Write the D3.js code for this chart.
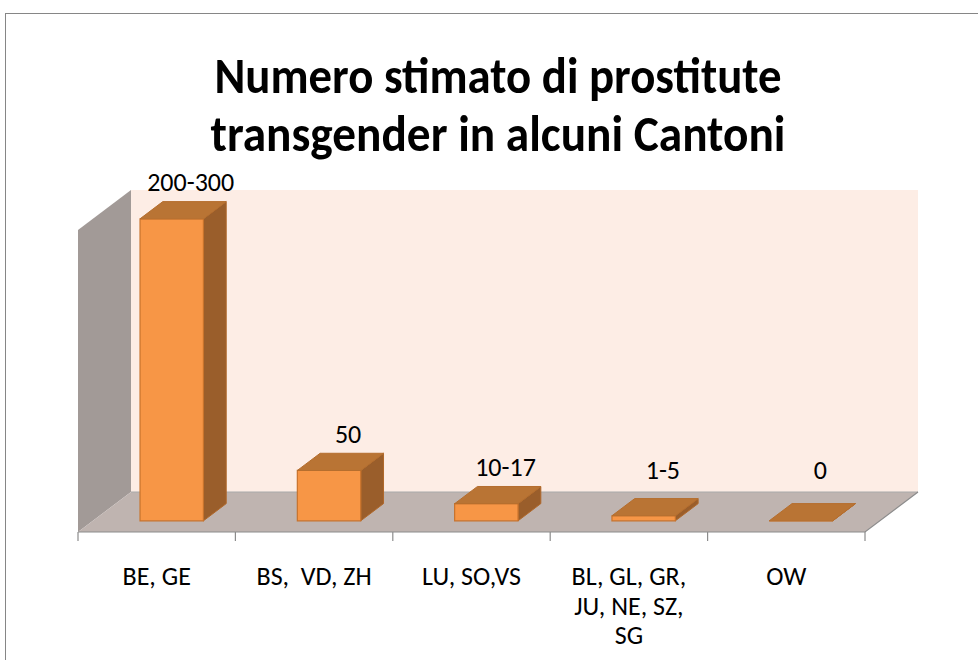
<!DOCTYPE html>
<html>
<head>
<meta charset="utf-8">
<script src="https://cdn.jsdelivr.net/npm/d3@7"></script>
<style>
  html, body { margin: 0; padding: 0; background: #ffffff; }
  svg { display: block; }
  text { font-family: Calibri, Carlito, Lato, "Open Sans", sans-serif; }
</style>
</head>
<body>
<svg id="chart" width="978" height="660"></svg>
<script>
// ---- data ----
const categories = ["BE, GE", "BS,  VD, ZH", "LU, SO,VS", "BL, GL, GR, JU, NE, SZ, SG", "OW"];
const categoryLines = [["BE, GE"], ["BS,  VD, ZH"], ["LU, SO,VS"], ["BL, GL, GR,", "JU, NE, SZ,", "SG"], ["OW"]];
const values = [300, 50, 17, 5, 0];
const valueLabels = ["200-300", "50", "10-17", "1-5", "0"];
const titleLines = ["Numero stimato di prostitute", "transgender in alcuni Cantoni"];

// ---- layout ----
const W = 978, H = 660;
const svg = d3.select("#chart");
const floorY = 532, left = 78, right = 865;
const depthDX = 53, depthDY = -40;
const wallH = 302;

const xCat = d3.scaleBand().domain(categories).range([left, right]).padding(0);
const xBar = d3.scaleBand().domain(categories).range([left, right]).paddingInner(0.597).paddingOuter(0.3);
const yH = d3.scaleLinear().domain([0, 300]).range([0, wallH]);

const proj = (x, h, z) => [x + depthDX * z, floorY - h - (-depthDY) * z];
const poly = pts => pts.map(p => proj(...p).join(",")).join(" ");

// chart border
svg.append("rect").attr("x", 5.5).attr("y", 13.5).attr("width", 990).attr("height", 700)
  .attr("fill", "#ffffff").attr("stroke", "#868686").attr("stroke-width", 1);

// title
svg.append("g").selectAll("text").data(titleLines).join("text")
  .attr("x", 498).attr("y", (d, i) => 93 + i * 58)
  .attr("text-anchor", "middle")
  .attr("font-size", 50).attr("font-weight", "bold").attr("fill", "#000")
  .attr("textLength", (d, i) => i === 0 ? 567 : 575)
  .attr("lengthAdjust", "spacingAndGlyphs")
  .text(d => d);

// walls
const walls = svg.append("g");
walls.append("polygon")
  .attr("points", poly([[left, 0, 1], [right, 0, 1], [right, wallH, 1], [left, wallH, 1]]))
  .attr("fill", "#FDEDE5");
walls.append("polygon")
  .attr("points", poly([[left, 0, 0], [left, 0, 1], [left, wallH, 1], [left, wallH, 0]]))
  .attr("fill", "#A29A97");
walls.append("polygon")
  .attr("points", poly([[left, 0, 0], [right, 0, 0], [right, 0, 1], [left, 0, 1]]))
  .attr("fill", "#BFB4B0");
walls.append("polyline")
  .attr("points", poly([[left, 0, 1], [right, 0, 1]]))
  .attr("fill", "none").attr("stroke", "#A9A9A9").attr("stroke-width", 1);
walls.append("polyline")
  .attr("points", poly([[left, 0, 0], [right, 0, 0], [right, 0, 1]]))
  .attr("fill", "none").attr("stroke", "#8C8C8C").attr("stroke-width", 1.2);

// x ticks at category boundaries
const tickXs = categories.map(c => xCat(c)).concat([right]);
svg.append("g").selectAll("line").data(tickXs).join("line")
  .attr("x1", d => d).attr("x2", d => d)
  .attr("y1", floorY).attr("y2", floorY + 9)
  .attr("stroke", "#8C8C8C").attr("stroke-width", 1.2);

// x labels
const lab = svg.append("g").selectAll("text").data(categories).join("text")
  .attr("text-anchor", "middle")
  .attr("font-size", 26).attr("fill", "#000")
  .attr("xml:space", "preserve").style("white-space", "pre");
lab.each(function (c, i) {
  d3.select(this).selectAll("tspan").data(categoryLines[i]).join("tspan")
    .attr("x", xCat(c) + xCat.bandwidth() / 2)
    .attr("y", (d, j) => 585 + j * 29.5)
    .text(d => d);
});

// bars
const z0 = 0.28, z1 = 0.71;
const bars = svg.append("g").selectAll("g").data(categories).join("g");
bars.each(function (c, i) {
  const g = d3.select(this);
  const xl = xBar(c), xr = xBar(c) + xBar.bandwidth();
  const h = yH(values[i]);
  g.append("polygon")
    .attr("points", poly([[xr, 0, z0], [xr, 0, z1], [xr, h, z1], [xr, h, z0]]))
    .attr("fill", "#9A5E2B").attr("stroke", "#B0682A").attr("stroke-width", 1);
  g.append("polygon")
    .attr("points", poly([[xl, 0, z0], [xr, 0, z0], [xr, h, z0], [xl, h, z0]]))
    .attr("fill", "#F79646").attr("stroke", "#C8732C").attr("stroke-width", 1.2);
  g.append("polygon")
    .attr("points", poly([[xl, h, z0], [xr, h, z0], [xr, h, z1], [xl, h, z1]]))
    .attr("fill", "#B97434").attr("stroke", "#B56E2E").attr("stroke-width", 1);
});

// value labels
svg.append("g").selectAll("text").data(categories).join("text")
  .attr("x", c => xCat(c) + xCat.bandwidth() / 2 + 34)
  .attr("y", (c, i) => Math.min(proj(0, yH(values[i]), 1)[1] + 1, 479))
  .attr("text-anchor", "middle")
  .attr("font-size", 26).attr("fill", "#000")
  .text((c, i) => valueLabels[i]);
</script>
</body>
</html>
